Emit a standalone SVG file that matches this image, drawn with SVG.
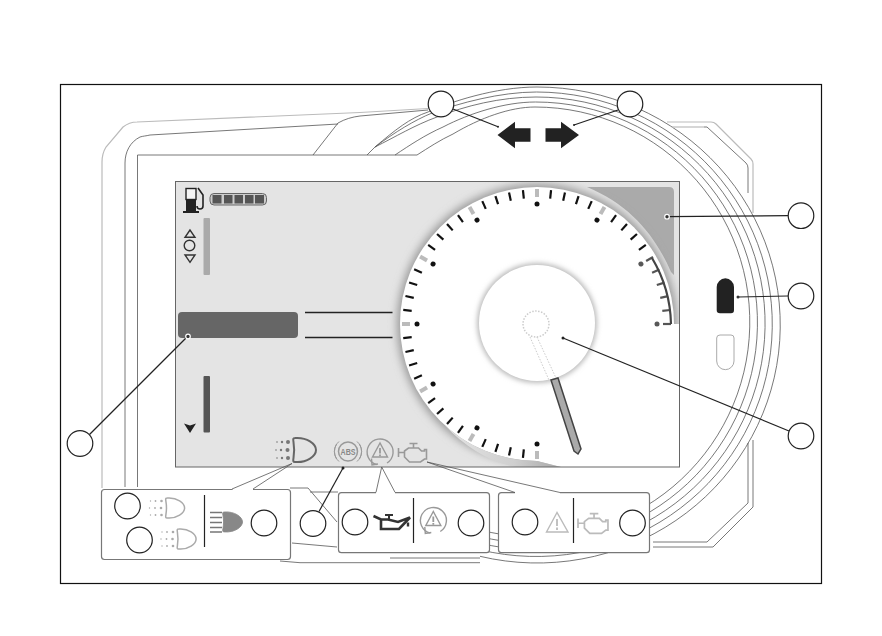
<svg xmlns="http://www.w3.org/2000/svg" width="882" height="636" viewBox="0 0 882 636">
<style>
.ln{fill:none;stroke:#555;stroke-width:.8}
.lt{fill:none;stroke:#bbb;stroke-width:1.2}
.ld{fill:none;stroke:#222;stroke-width:1.2}
.c{fill:#fff;stroke:#222;stroke-width:1.2}
.pn{fill:#fff;stroke:#777;stroke-width:1.2}
.tk{stroke:#111;stroke-width:2.200;fill:none}
.tg{stroke:#bbb;stroke-width:4;fill:none}
.td{stroke:#555;stroke-width:2.200;fill:none}
.dt{fill:#111}
.hd{fill:none;stroke:#666;stroke-width:2}
.hl{fill:none;stroke:#aaa;stroke-width:1.800}
.w{fill:none;stroke:#999;stroke-width:1.400}
</style>
<defs>
<line id="t" class="tk" x1="537" y1="189.500" x2="537" y2="198"/>
<line id="g" class="tg" x1="537" y1="189" x2="537" y2="197"/>
<circle id="d" class="dt" cx="537" cy="204" r="2.500"/>
<line id="r" class="td" x1="537" y1="190" x2="537" y2="198"/>
<path id="lamp" d="M2,0C14,-1 23,6 23,12C23,18 14,25 2,24C0,24 0,23 .5,20C1.500,14 1.500,10 .5,4C0,1 0,0 2,0Z"/>
<g id="dots" fill="#777"><circle cx="-5" cy="4" r="2"/><circle cx="-5.500" cy="12" r="2"/><circle cx="-5" cy="20" r="2"/><circle cx="-11" cy="4" r="1.200"/><circle cx="-12" cy="12" r="1.200"/><circle cx="-11" cy="20" r="1.200"/><circle cx="-16" cy="4" r=".8"/><circle cx="-17" cy="12" r=".8"/><circle cx="-16" cy="20" r=".8"/></g>
<g id="dotsl" fill="#aaa"><circle cx="-4" cy="3" r="1.300"/><circle cx="-4.500" cy="10" r="1.300"/><circle cx="-4" cy="17" r="1.300"/><circle cx="-10" cy="3" r=".9"/><circle cx="-10.500" cy="10" r=".9"/><circle cx="-10" cy="17" r=".9"/><circle cx="-15" cy="3" r=".7"/><circle cx="-16" cy="10" r=".7"/><circle cx="-15" cy="17" r=".7"/></g>
<path id="eng" d="M6,9L10,6H20L23,9H26V7.500H28V17H26L22,20H11L6,15ZM15,6V2M11,1.500H19M0,6V15M0,10.500H6" fill="none"/>
<g id="warn"><path d="M-3,12.600A13,13 0 1 1 7,11" fill="none"/><path d="M-8.500,6.500L-8,13L-2,12" fill="none"/><path d="M0,-9L-7.500,5H7.500Z" fill="none"/><path d="M0,-4V1.500M0,2.500V4.200" fill="none" stroke-width="1.800"/></g>
<filter id="b3" x="-20%" y="-20%" width="140%" height="140%"><feGaussianBlur stdDeviation="2.500"/></filter>
<filter id="b5" x="-20%" y="-20%" width="140%" height="140%"><feGaussianBlur stdDeviation="4"/></filter>
<linearGradient id="cr" gradientUnits="userSpaceOnUse" x1="445" y1="0" x2="560" y2="0"><stop offset="0" stop-color="#e4e4e4"/><stop offset=".6" stop-color="#cfcfcf"/><stop offset="1" stop-color="#a8a8a8"/></linearGradient>
<clipPath id="scr"><rect x="176" y="182" width="503" height="285"/></clipPath>
</defs>
<rect width="882" height="636" fill="#fff"/>
<g id="housing">
<path class="lt" d="M102,488V162C102,155 103,152 106,147L123,127C128,123 132,122 137,122L360,112.500L428,108.500"/>
<path class="ln" d="M125,487V163C125,152 130,142 140,137C143,136 146,136 150,135L338,124"/>
<path class="ln" d="M313,155L338,123C345,119 352,117 360,116L428,110"/>
<path class="ln" d="M137.500,487V155H417"/>
<path class="ln" d="M367,155L375,147C395,130 410,118 428,112C450,102 495,87 537,87A243,238 0 1 1 480,556.300"/>
<path class="ln" d="M375,147C395,132 415,120 432,113C460,103 500,92 536.500,92A236,232.250 0 1 1 480,549.800"/>
<path class="ln" d="M375,147C395,137 415,125 437,117C465,106 500,97 536,97A229,226.500 0 1 1 480,543.100"/>
<path class="ln" d="M395,155C410,145 425,135 443,127C470,113 505,102 535.500,102A222,220.750 0 1 1 480,536.500"/>
<path class="ln" d="M417,155C428,148 440,140 453,134C480,118 510,107 535,107A215,215 0 1 1 480,529.900"/>
<path class="lt" d="M667,122H711Q714,122 716,124L751,159Q753,161 753,164V213"/>
<path class="lt" d="M672,127H704"/>
<path class="ln" d="M704,127H707L746,163Q748,165 748,168V193"/>
<path class="ln" d="M753,440V507L713,547H653"/>
<path class="ln" d="M748,443V503L707,542H653"/>
<path class="ln" d="M290,488H308L337,522"/>
<path class="ln" d="M310,492H338"/>
<path class="ln" d="M292,543L337,547"/>
<path class="ln" d="M280,561L300,562.700H480"/>
<path class="ln" d="M390,558H480"/>
</g>
<g id="screen">
<rect x="175.500" y="181.500" width="504" height="285.500" fill="#e4e4e4"/>
<g clip-path="url(#scr)">
<path fill="#aaa" d="M587,187H669Q674,187 674,192V275L671,272C655,235 630,205 587,187Z"/>
<path fill="#aaa" d="M676,330L680,330V348C677,343 676,337 676,330Z"/>
<circle cx="537" cy="324" r="140" fill="#999" filter="url(#b5)"/>
<path fill="#fff" d="M537,324H680V467H561L537,461Z"/>
<circle cx="537" cy="324" r="137" fill="#fff"/>
<path fill="url(#cr)" d="M445,425.500A137,137 0 0 0 537,461L561,467H515C490,462 465,447 445,425.500Z"/>
</g>
<rect x="175.500" y="181.500" width="504" height="285.500" fill="none" stroke="#666" stroke-width="1"/>
<circle cx="537" cy="323" r="60" fill="#bbb" filter="url(#b3)"/>
<circle cx="537" cy="323" r="58" fill="#fff"/>
<circle cx="536" cy="324" r="13" fill="none" stroke="#ccc" stroke-width="1.500" stroke-dasharray="1.500 1.500"/>
<path d="M530,337L549,380M537,337L556,378" fill="none" stroke="#ccc" stroke-width="1" stroke-dasharray="1.500 1.500"/>
<path fill="#aaa" stroke="#444" stroke-width="1.500" d="M551,380L558,378L581,449L578,454L574,451Z"/>
<g id="ticks">
<use href="#g"/><use href="#d"/>
<use href="#t" transform="rotate(6 537 324)"/><use href="#t" transform="rotate(12 537 324)"/><use href="#t" transform="rotate(18 537 324)"/><use href="#t" transform="rotate(24 537 324)"/>
<use href="#g" transform="rotate(30 537 324)"/><use href="#d" transform="rotate(30 537 324)"/>
<use href="#t" transform="rotate(36 537 324)"/><use href="#t" transform="rotate(42 537 324)"/><use href="#t" transform="rotate(48 537 324)"/><use href="#t" transform="rotate(54 537 324)"/>
<use href="#r" transform="rotate(60 537 324)"/><use href="#d" transform="rotate(60 537 324)" opacity=".7"/>
<use href="#r" transform="rotate(66 537 324)"/><use href="#r" transform="rotate(72 537 324)"/><use href="#r" transform="rotate(78 537 324)"/><use href="#r" transform="rotate(84 537 324)"/>
<use href="#r" transform="rotate(90 537 324)"/><use href="#d" transform="rotate(90 537 324)" opacity=".7"/>
<path d="M652,258A134,134 0 0 1 671,324" fill="none" stroke="#444" stroke-width="2.200"/>
<use href="#g" transform="rotate(180 537 324)"/><use href="#d" transform="rotate(180 537 324)"/>
<use href="#t" transform="rotate(186 537 324)"/><use href="#t" transform="rotate(192 537 324)"/><use href="#t" transform="rotate(198 537 324)"/><use href="#t" transform="rotate(204 537 324)"/>
<use href="#g" transform="rotate(210 537 324)"/><use href="#d" transform="rotate(210 537 324)"/>
<use href="#t" transform="rotate(216 537 324)"/><use href="#t" transform="rotate(222 537 324)"/><use href="#t" transform="rotate(228 537 324)"/><use href="#t" transform="rotate(234 537 324)"/>
<use href="#g" transform="rotate(240 537 324)"/><use href="#d" transform="rotate(240 537 324)"/>
<use href="#t" transform="rotate(246 537 324)"/><use href="#t" transform="rotate(252 537 324)"/><use href="#t" transform="rotate(258 537 324)"/><use href="#t" transform="rotate(264 537 324)"/>
<use href="#g" transform="rotate(270 537 324)"/><use href="#d" transform="rotate(270 537 324)"/>
<use href="#t" transform="rotate(276 537 324)"/><use href="#t" transform="rotate(282 537 324)"/><use href="#t" transform="rotate(288 537 324)"/><use href="#t" transform="rotate(294 537 324)"/>
<use href="#g" transform="rotate(300 537 324)"/><use href="#d" transform="rotate(300 537 324)"/>
<use href="#t" transform="rotate(306 537 324)"/><use href="#t" transform="rotate(312 537 324)"/><use href="#t" transform="rotate(318 537 324)"/><use href="#t" transform="rotate(324 537 324)"/>
<use href="#g" transform="rotate(330 537 324)"/><use href="#d" transform="rotate(330 537 324)"/>
<use href="#t" transform="rotate(336 537 324)"/><use href="#t" transform="rotate(342 537 324)"/><use href="#t" transform="rotate(348 537 324)"/><use href="#t" transform="rotate(354 537 324)"/>
</g>
<g id="fuel">
<path fill="#222" d="M186,199H196V211H199V213H183V211H186Z"/>
<rect x="186" y="188.500" width="10" height="11" fill="#f4f4f4" stroke="#222" stroke-width="1.400"/>
<path d="M198,188L203,195V206Q203,209 200,209Q197,209 197,206" fill="none" stroke="#222" stroke-width="1.600"/>
<rect x="210" y="193.500" width="56.500" height="11.500" rx="4" fill="#ccc" stroke="#666" stroke-width="1"/>
<g fill="#555"><rect x="212.500" y="195" width="9" height="8.500"/><rect x="224" y="195" width="8.500" height="8.500"/><rect x="234.500" y="195" width="8.500" height="8.500"/><rect x="245" y="195" width="8.500" height="8.500"/><rect x="255" y="195" width="9" height="8.500"/></g>
</g>
<g id="scroll" fill="none" stroke="#333" stroke-width="1.400">
<path d="M190,230L185,237.300H195Z"/>
<circle cx="189.500" cy="245.500" r="5.300"/>
<path d="M185,255H195L190,262.300Z"/>
</g>
<rect x="203.500" y="218" width="6.500" height="57" rx="1" fill="#aaa"/>
<rect x="203.500" y="376" width="6.500" height="56.500" rx="1" fill="#555"/>
<path d="M184,423.500L190,425.500L196,423.500L190,433Z" fill="#222"/>
<rect x="178" y="312" width="120" height="26" rx="4" fill="#666"/>
<path d="M305,312.500H392.500M305,337.500H392.500" stroke="#222" stroke-width="1.500" fill="none"/>
<g id="lamp-main" transform="translate(293,438)"><use href="#lamp" class="hd"/><use href="#dots"/></g>
<g id="abs"><circle cx="348" cy="451.500" r="9.500" fill="none" stroke="#999" stroke-width="1.500"/>
<path d="M339,441.500A13.300,13.300 0 0 0 339,461.500M357,441.500A13.300,13.300 0 0 1 357,461.500M336.500,444A15,15 0 0 0 336.500,459M359.500,444A15,15 0 0 1 359.500,459" fill="none" stroke="#999" stroke-width="1"/>
<text x="348" y="454.700" text-anchor="middle" font-family="Liberation Sans Narrow, Liberation Sans, sans-serif" font-size="9" font-weight="700" fill="#888" textLength="15" lengthAdjust="spacingAndGlyphs">ABS</text></g>
<use href="#warn" class="w" stroke="#999" fill="none" transform="translate(380,452)"/>
<use href="#eng" stroke="#999" stroke-width="1.600" transform="translate(398.500,442)"/>
</g>
<g id="arrows">
<path id="arrow-left" fill="#222" d="M497.500,135L515,121.700V128.300H530.500V141.700H515V148.300Z"/>
<path id="arrow-right" fill="#222" d="M579,135L561,121.700V128.300H545.500V141.700H561V148.300Z"/>
<path id="pill-dark" fill="#222" d="M716.700,287A8.600,8.600 0 0 1 734,287V310Q734,313.300 731,313.300H720Q716.700,313.300 716.700,310Z"/>
<path id="pill-light" fill="#fff" stroke="#aaa" stroke-width="1" d="M720,335H731Q734,335 734,338V361A8.600,8.600 0 0 1 716.700,361V338Q716.700,335 720,335Z"/>
</g>
<g id="panel-1">
<rect class="pn" x="101.500" y="489.500" width="189" height="70" rx="3"/>
<path fill="#fff" d="M232.500,488H253V491H232.500Z"/>
<path d="M204.500,495V547" stroke="#222" stroke-width="1.200"/>
<g transform="translate(165.500,498)"><use href="#lamp" class="hl" transform="scale(.83)"/><use href="#dotsl"/></g>
<g transform="translate(177,529)"><use href="#lamp" class="hl" transform="scale(.83)"/><use href="#dotsl"/></g>
<use href="#lamp" fill="#888" stroke="#888" transform="translate(222.500,512) scale(.87 .83)"/>
<path d="M210,512.500H222M210,517.500H222M210,522.500H222M210,527.500H222M210,532H222" stroke="#777" stroke-width="1.500"/>
</g>
<g id="panel-2">
<rect class="pn" x="338.500" y="492.700" width="151" height="60" rx="3"/>
<path fill="#fff" d="M376,491H395V494H376Z"/>
<path d="M413.500,498V543" stroke="#222" stroke-width="1.200"/>
<g id="oil" fill="none" stroke="#333" stroke-width="2.600"><path d="M373.500,516L381,519.500H388L398,522L410,517.500L399,529H381V519.500"/><path d="M385,515H393M389,515V519" stroke-width="2"/><path d="M408,522.500V526.500" stroke-width="2.400"/></g>
<use href="#warn" class="w" stroke="#aaa" fill="none" transform="translate(433.300,520.500)"/>
</g>
<g id="panel-3">
<rect class="pn" x="498.500" y="492.700" width="151" height="60" rx="3"/>
<path fill="#fff" d="M515,491H560V494H515Z"/>
<path d="M573.500,498V543" stroke="#222" stroke-width="1.200"/>
<path d="M557,512.500L546.500,532H568Z" fill="none" stroke="#bbb" stroke-width="1.400"/>
<path d="M557,519V526M557,527.500V530" stroke="#bbb" stroke-width="1.800" fill="none"/>
<use href="#eng" stroke="#bbb" stroke-width="1.600" transform="translate(578,512) scale(1.070)"/>
</g>
<g id="connectors">
<path class="ld" d="M453,109L498,126.700"/>
<path class="ld" d="M618,110L574,125"/>
<path class="ld" d="M667,216.700L788,215.700"/>
<path class="ld" d="M738,297L788,296"/>
<path class="ld" d="M563,338L789,431"/>
<path class="ld" d="M188,336L89.500,434.500"/>
<path class="ld" d="M343,468L319,511.500"/>
<path class="ln" d="M232,489L292,463.500L253,489"/>
<path class="ln" d="M376,492.300L381.700,467L395,492.300"/>
<path class="ln" d="M515,492.500L427,462L560,492.500"/>
<circle cx="667" cy="216.700" r="2.300" fill="#333" stroke="#fff" stroke-width="1.200"/>
<circle cx="738" cy="297" r="1.500" fill="#333"/>
<circle cx="563" cy="338" r="1.500" fill="#222"/>
<circle cx="188" cy="336.500" r="2.300" fill="#333" stroke="#fff" stroke-width="1.200"/>
<circle cx="343" cy="468" r="1.500" fill="#222"/>
<circle cx="498" cy="126.700" r="1" fill="#222"/>
<circle cx="574" cy="125" r="1" fill="#222"/>
</g>
<g id="callouts">
<circle id="n1" class="c" cx="441" cy="104" r="12.800"/>
<circle id="n2" class="c" cx="630" cy="104" r="12.800"/>
<circle id="n3" class="c" cx="801" cy="215.700" r="12.800"/>
<circle id="n4" class="c" cx="801" cy="296" r="12.800"/>
<circle id="n5" class="c" cx="801" cy="436" r="12.800"/>
<circle id="n6" class="c" cx="80" cy="443.500" r="12.800"/>
<circle id="n7" class="c" cx="127.500" cy="506" r="12.800"/>
<circle id="n8" class="c" cx="139.500" cy="540" r="12.800"/>
<circle id="n9" class="c" cx="264" cy="523" r="12.800"/>
<circle id="n10" class="c" cx="313" cy="523.500" r="12.800"/>
<circle id="n11" class="c" cx="355" cy="522" r="12.800"/>
<circle id="n12" class="c" cx="471" cy="523" r="12.800"/>
<circle id="n13" class="c" cx="525" cy="522" r="12.800"/>
<circle id="n14" class="c" cx="632.500" cy="523" r="12.800"/>
</g>
<rect id="frame" x="60.500" y="84.500" width="761" height="499" fill="none" stroke="#111" stroke-width="1.200"/>
</svg>
